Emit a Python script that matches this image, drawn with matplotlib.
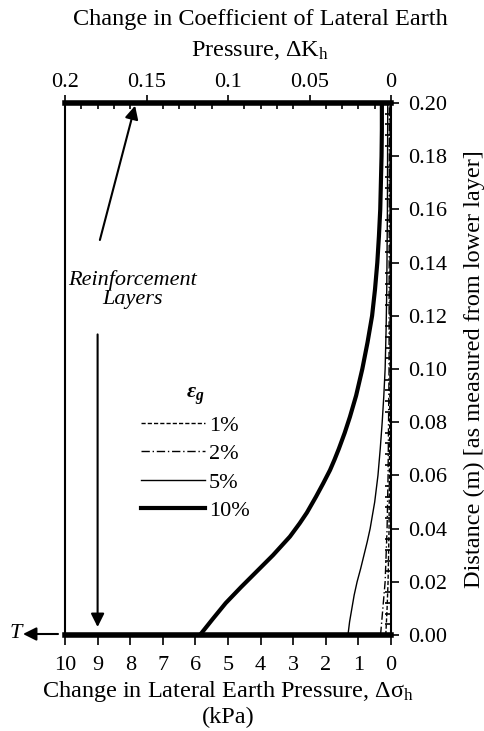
import matplotlib
matplotlib.use("Agg")
import matplotlib.pyplot as plt
import numpy as np

plt.rcParams['font.family'] = ['Liberation Serif', 'DejaVu Serif']
plt.rcParams['mathtext.fontset'] = 'custom'
plt.rcParams['mathtext.rm'] = 'Liberation Serif'
plt.rcParams['mathtext.it'] = 'Liberation Serif:italic'
plt.rcParams['mathtext.bf'] = 'Liberation Serif:italic:bold'

# Data: distance (m) vs change in lateral earth pressure (kPa)
d_1 = [0.000, 0.010, 0.020, 0.040, 0.100, 0.200]
p_1 = [0.16, 0.12, 0.09, 0.06, 0.03, 0.03]

d_2 = [0.000, 0.010, 0.020, 0.040, 0.060, 0.100, 0.200]
p_2 = [0.32, 0.25, 0.18, 0.12, 0.09, 0.06, 0.05]

d_5 = [0.000, 0.005, 0.010, 0.015, 0.020, 0.025, 0.030, 0.035, 0.040, 0.050,
       0.060, 0.070, 0.080, 0.090, 0.100, 0.115, 0.130, 0.160, 0.200]
p_5 = [1.32, 1.27, 1.20, 1.13, 1.04, 0.93, 0.83, 0.73, 0.64, 0.50,
       0.40, 0.33, 0.27, 0.22, 0.18, 0.15, 0.13, 0.11, 0.10]

d_10 = [0.000, 0.006, 0.012, 0.018, 0.024, 0.030, 0.037, 0.042, 0.046, 0.052,
        0.057, 0.062, 0.066, 0.070, 0.076, 0.082, 0.090, 0.100, 0.110, 0.120,
        0.130, 0.140, 0.150, 0.160, 0.170, 0.180, 0.190, 0.200]
p_10 = [5.86, 5.47, 5.07, 4.60, 4.11, 3.62, 3.10, 2.80, 2.58, 2.30,
        2.08, 1.87, 1.73, 1.60, 1.42, 1.26, 1.07, 0.88, 0.72, 0.58,
        0.49, 0.42, 0.37, 0.33, 0.31, 0.29, 0.28, 0.28]

series_labels = ['1%', '2%', '5%', '10%']
layer_positions = [0.0, 0.2]
x_ticks = list(range(10, -1, -1))
top_ticks = [0.2, 0.15, 0.1, 0.05, 0.0]
top_tick_labels = ['0.2', '0.15', '0.1', '0.05', '0']
y_ticks = [0.00, 0.02, 0.04, 0.06, 0.08, 0.10, 0.12, 0.14, 0.16, 0.18, 0.20]

W, H = 484, 731
fig = plt.figure(figsize=(W / 100, H / 100), dpi=100)
ax = fig.add_axes([65 / W, 1 - 635 / H, (391 - 65) / W, (635 - 103) / H])

fs = 16
fl = 17.5

l1, = ax.plot(p_1, d_1, color='black', lw=1.0, ls=(0, (3, 1.5)), label=series_labels[0])
l2, = ax.plot(p_2, d_2, color='black', lw=1.0, ls=(0, (6, 2, 1, 2)), label=series_labels[1])
l5, = ax.plot(p_5, d_5, color='black', lw=1.0, label=series_labels[2])
l10, = ax.plot(p_10, d_10, color='black', lw=3.0, label=series_labels[3],
               solid_joinstyle='round')

for yl in layer_positions:
    ax.axhline(yl, color='black', lw=4.0, clip_on=False, zorder=5)

ax.set_xlim(10, 0)
ax.set_ylim(0, 0.2)

ax.set_xticks(x_ticks)
ax.set_xticklabels([str(t) for t in x_ticks])
ax.tick_params(axis='x', which='major', direction='out', length=7, width=1.2,
               labelsize=fs, pad=8)

ax.yaxis.tick_right()
ax.set_yticks(y_ticks)
ax.set_yticklabels(['%.2f' % t for t in y_ticks])
ax.set_yticks(np.arange(0, 0.2001, 0.004), minor=True)
ax.tick_params(axis='y', which='major', direction='out', length=6, width=1.2,
               labelsize=fs, pad=6)
ax.tick_params(axis='y', which='minor', direction='in', length=4, width=1.2)

for s in ax.spines.values():
    s.set_linewidth(1.5)

ax.yaxis.set_label_position('right')
ax.set_ylabel('Distance (m) [as measured from lower layer]', fontsize=fl,
              rotation=90, labelpad=12)

ax.set_xlabel('Change in Lateral Earth Pressure, $\\mathrm{\\Delta\\sigma_h}$\n(kPa)',
              fontsize=fl, labelpad=3, linespacing=1.15)

sec = ax.secondary_xaxis('top', functions=(lambda x: x / 50.0, lambda x: x * 50.0))
sec.set_xticks(top_ticks)
sec.set_xticklabels(top_tick_labels)
sec.set_xticks(np.arange(0, 0.2001, 0.01), minor=True)
sec.tick_params(axis='x', which='major', direction='out', length=6, width=1.2,
                labelsize=fs, pad=2)
sec.tick_params(axis='x', which='minor', direction='in', length=4, width=1.2)
sec.spines['top'].set_linewidth(1.5)

fig.text(260 / W, 1 - 19 / H, 'Change in Coefficient of Lateral Earth',
         fontsize=fl, ha='center', va='center')
fig.text(260 / W, 1 - 50 / H, 'Pressure, $\\mathrm{\\Delta K_h}$',
         fontsize=fl, ha='center', va='center')

leg = ax.legend(handles=[l1, l2, l5, l10], title='$\\mathbf{\\varepsilon_g}$',
                frameon=False, fontsize=fs, title_fontsize=fs,
                loc='upper left', bbox_to_anchor=(141 / W, 1 - 384 / H),
                bbox_transform=fig.transFigure, handlelength=2.9,
                handletextpad=0.15, labelspacing=0.36, borderpad=0,
                borderaxespad=0)

# Annotations
ax.text(7.93, 0.130, 'Reinforcement\nLayers', fontsize=fs, style='italic',
        ha='center', va='center', linespacing=1.0)
ax.annotate('', xy=(7.85, 0.199), xytext=(8.93, 0.1485),
            arrowprops=dict(arrowstyle='-|>', color='black', lw=1.5,
                            mutation_scale=20, shrinkA=0, shrinkB=0))
ax.annotate('', xy=(9.0, 0.003), xytext=(9.0, 0.113),
            arrowprops=dict(arrowstyle='-|>', color='black', lw=1.5,
                            mutation_scale=20, shrinkA=0, shrinkB=0))

# T arrow outside axes
fig.text(16 / W, 1 - 633 / H, 'T', fontsize=fs, style='italic', ha='center', va='center')
ax.annotate('', xy=(23 / W, 1 - 634 / H), xytext=(58 / W, 1 - 634 / H),
            xycoords='figure fraction', textcoords='figure fraction',
            arrowprops=dict(arrowstyle='-|>', color='black', lw=1.5,
                            mutation_scale=20, shrinkA=0, shrinkB=0))

fig.savefig('out.png', dpi=100)
